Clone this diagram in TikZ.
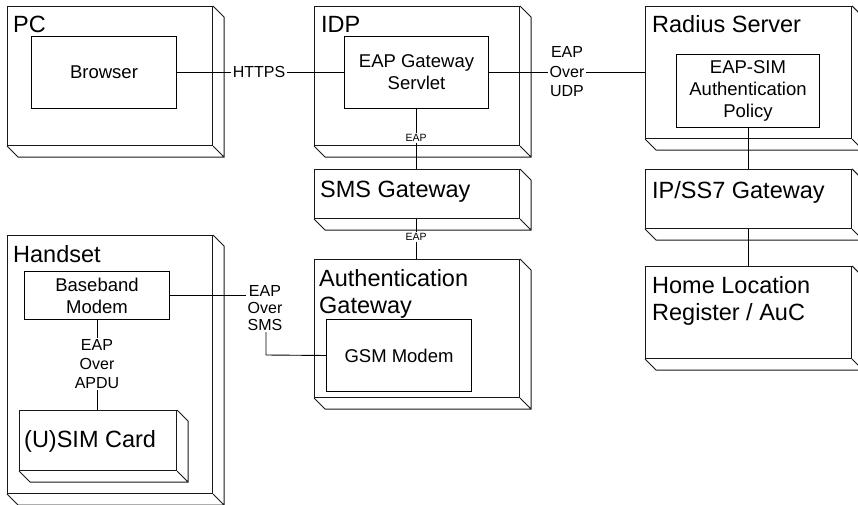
\documentclass[tikz,border=0pt]{standalone}
\usepackage{fontspec}
\setmainfont{Liberation Sans}
\usetikzlibrary{calc}

% font sizes (1pt = one unit of the drawing)
\newcommand\fTitle{\fontsize{23.5}{27}\selectfont}
\newcommand\fPart{\fontsize{18.5}{21.8}\selectfont}
\newcommand\fTag{\fontsize{16}{18.8}\selectfont}
\newcommand\fTiny{\fontsize{10.5}{12}\selectfont}

\tikzset{
  frontface/.style={draw=black!90, line width=1.1pt, rectangle, inner sep=0pt, anchor=north west},
  edgethreed/.style={draw=black!90, line width=0.9pt, line join=miter},
  part/.style={draw=black, line width=1pt, rectangle, inner sep=0pt, anchor=north west,
               align=center, font=\fPart},
  link/.style={draw=black, line width=0.9pt},
  tag/.style={fill=white, inner sep=1.6pt, align=center, font=\fTag},
  tinytag/.style={fill=white, inner sep=1pt, font=\fTiny},
  title/.style={anchor=base west, inner sep=0pt, align=left, font=\fTitle},
}

% a deployment node drawn as a box with depth: name, left, top, width, height
\newcommand\solidbox[5]{%
  \node[frontface, minimum width=#4pt, minimum height=#5pt] (#1) at (#2,#3) {};
  \draw[edgethreed] (#1.north east) -- ++(11,11) -- ($(#1.south east)+(11,11)$)
        -- ($(#1.south west)+(11,11)$) -- (#1.south west)
        (#1.south east) -- ++(11,11);
}

\begin{document}
\begin{tikzpicture}[x=1pt,y=-1pt]
\clip (0,0) rectangle (858,505);
\fill[white] (0,0) rectangle (858,505);

% deployment nodes
\solidbox{pc}{7}{6}{205}{139}
\solidbox{idp}{314}{6}{205}{139}
\solidbox{radius}{645}{6}{206}{132}
\solidbox{smsgw}{314}{169}{205}{49}
\solidbox{ss7}{645}{169}{206}{59}
\solidbox{hlr}{645}{266}{206}{92}
\solidbox{handset}{7}{235}{205}{258}
\solidbox{authgw}{314}{259}{205}{138}
\solidbox{usim}{19}{410}{157}{60}

% node titles (multi-line ones sit on the baseline of their last line)
\node[title] (pc-t) at (13,33) {PC};
\node[title] (idp-t) at (321,33) {IDP};
\node[title] (radius-t) at (652,33) {Radius Server};
\node[title] (smsgw-t) at (320,197) {SMS Gateway};
\node[title] (ss7-t) at (652,198) {IP/SS7 Gateway};
\node[title] (hlr-t) at (652,320) {Home Location\\Register / AuC};
\node[title] (handset-t) at (13,262) {Handset};
\node[title] (authgw-t) at (319,313) {Authentication\\Gateway};
\node[title] (usim-t) at (24,447) {(U)SIM Card};

% components
\node[part, minimum width=145pt, minimum height=72pt] (browser) at (31,36) {Browser};
\node[part, minimum width=144pt, minimum height=72pt] (servlet) at (344,36) {EAP Gateway\\Servlet};
\node[part, minimum width=143pt, minimum height=73pt] (policy) at (676,54) {EAP-SIM\\Authentication\\Policy};
\node[part, minimum width=145pt, minimum height=48pt] (baseband) at (24,271) {Baseband\\Modem};
\node[part, minimum width=145pt, minimum height=72pt] (gsm) at (326,319) {GSM Modem};

% connectors
\draw[link] (browser.east) -- (servlet.west);
\draw[link] (servlet.east) -- (radius.west);
\draw[link] (servlet.south) -- (servlet.south |- smsgw.north);
\draw[link] (servlet.south |- smsgw.south) -- (servlet.south |- authgw.north);
\draw[link] (policy.south) -- (policy.south |- ss7.north);
\draw[link] (policy.south |- ss7.south) -- (policy.south |- hlr.north);
\coordinate (smsbend) at (266,355);
\draw[link] (baseband.east) -| (smsbend) -- (gsm.west);
\draw[link] (baseband.south) -- (baseband.south |- usim.north);

% connector labels
\node[tag] (https) at (259,72) {HTTPS};
\node[tag, font=\fontsize{16}{19.5}\selectfont] (udp) at (567,72) {EAP\\Over\\UDP};
\node[tinytag] (eapa) at (416,138) {EAP};
\node[tinytag] (eapb) at (416,237) {EAP};
\node[tag, font=\fontsize{16}{17}\selectfont] (smslbl) at (265,308) {EAP\\Over\\SMS};
\node[tag] (apdu) at (97,364) {EAP\\Over\\APDU};
\end{tikzpicture}
\end{document}
